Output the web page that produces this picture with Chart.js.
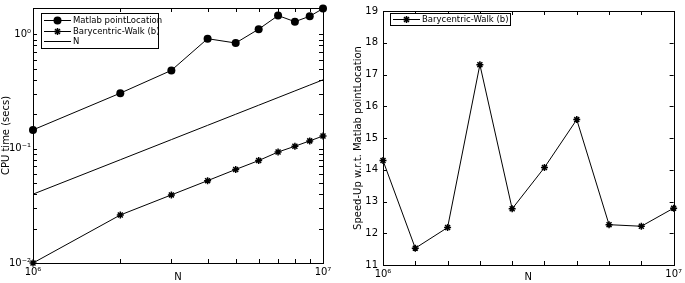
<!DOCTYPE html>
<html>
<head>
<meta charset="utf-8">
<script src="https://cdn.jsdelivr.net/npm/chart.js@4"></script>
<style>
  html, body { margin: 0; padding: 0; background: #fff; }
  #wrap { position: relative; width: 685px; height: 283px; }
  #timeChart { position: absolute; left: 0; top: 0; }
  #speedChart { position: absolute; left: 340px; top: 0; }
</style>
</head>
<body>
<div id="wrap">
  <canvas id="timeChart" width="340" height="283"></canvas>
  <canvas id="speedChart" width="345" height="283"></canvas>
</div>
<script>
// data
const nValues = [1e6, 2e6, 3e6, 4e6, 5e6, 6e6, 7e6, 8e6, 9e6, 1e7];
const matlabTimes = [0.146, 0.306, 0.484, 0.916, 0.84, 1.11, 1.46, 1.29, 1.44, 1.68];
const baryTimes = [0.0100, 0.0263, 0.0394, 0.0525, 0.0658, 0.0787, 0.0935, 0.105, 0.117, 0.129];
const nReference = [0.04, 0.08, 0.12, 0.16, 0.20, 0.24, 0.28, 0.32, 0.36, 0.40];
const speedUp = [14.29, 11.53, 12.18, 17.31, 12.77, 14.07, 15.58, 12.27, 12.22, 12.79];

// tick labels
const nTickValues = [1e6, 1e7];
const nTickLabels = ['10⁶', '10⁷'];
const timeTickValues = [0.01, 0.1, 1];
const timeTickLabels = ['10⁻²', '10⁻¹', '10⁰'];
const speedTickValues = [11, 12, 13, 14, 15, 16, 17, 18, 19];

const FONT = 'DejaVu Sans';
const INK = '#000';

// minor tick positions for the log axis (2..9 per decade)
const timeMinorTicks = [];
[0.01, 0.1, 1].forEach(d => {
    for (let k = 1; k <= 9; k++) timeMinorTicks.push(d * k);
});

function toPoints(ys) {
    return nValues.map((x, i) => ({ x: x, y: ys[i] }));
}

function drawMarker(ctx, style, x, y, r) {
    ctx.save();
    ctx.strokeStyle = INK;
    ctx.fillStyle = INK;
    if (style === 'circle') {
        ctx.beginPath();
        ctx.arc(x, y, r, 0, Math.PI * 2);
        ctx.fill();
    } else if (style === 'star') {
        ctx.lineWidth = 1.5;
        ctx.beginPath();
        for (let a = 0; a < 4; a++) {
            const ang = a * Math.PI / 4;
            ctx.moveTo(x - r * Math.cos(ang), y - r * Math.sin(ang));
            ctx.lineTo(x + r * Math.cos(ang), y + r * Math.sin(ang));
        }
        ctx.stroke();
    }
    ctx.restore();
}

// box round the plot, with ticks pointing inward on all four sides
const frameTicks = {
    id: 'frameTicks',
    beforeDatasetsDraw(chart, args, opts) {
        const { ctx, chartArea: a, scales } = chart;
        const len = 4;
        ctx.save();
        ctx.strokeStyle = INK;
        ctx.lineWidth = 1;
        ctx.beginPath();
        (opts.xTicks || []).forEach(v => {
            const px = Math.round(scales.x.getPixelForValue(v)) + 0.5;
            ctx.moveTo(px, a.bottom);
            ctx.lineTo(px, a.bottom - len);
            ctx.moveTo(px, a.top);
            ctx.lineTo(px, a.top + len);
        });
        (opts.yTicks || []).forEach(v => {
            const py = Math.round(scales.y.getPixelForValue(v)) + 0.5;
            if (py < a.top || py > a.bottom + 1) return;
            ctx.moveTo(a.left, py);
            ctx.lineTo(a.left + len, py);
            ctx.moveTo(a.right, py);
            ctx.lineTo(a.right - len, py);
        });
        ctx.stroke();
        ctx.strokeRect(Math.round(a.left) + 0.5, Math.round(a.top) + 0.5,
            Math.round(a.right - a.left), Math.round(a.bottom - a.top));
        ctx.restore();
    }
};

// legend drawn inside the plot area like the original
const boxLegend = {
    id: 'boxLegend',
    afterDatasetsDraw(chart, args, opts) {
        const { ctx } = chart;
        const b = opts.box;
        ctx.save();
        ctx.fillStyle = '#fff';
        ctx.fillRect(b.x, b.y, b.w, b.h);
        ctx.strokeStyle = INK;
        ctx.lineWidth = 1;
        ctx.strokeRect(b.x + 0.5, b.y + 0.5, b.w, b.h);
        ctx.font = '8.5px "' + FONT + '"';
        ctx.textBaseline = 'middle';
        ctx.textAlign = 'left';
        opts.rows.forEach(row => {
            const ds = chart.data.datasets[row.index];
            const y = Math.round(row.y) + 0.5;
            const x0 = b.x + 3, x1 = b.x + 30;
            ctx.beginPath();
            ctx.moveTo(x0, y);
            ctx.lineTo(x1, y);
            ctx.strokeStyle = INK;
            ctx.stroke();
            if (ds.markerStyle) drawMarker(ctx, ds.markerStyle, (x0 + x1) / 2, y, ds.pointRadius);
            ctx.fillStyle = INK;
            ctx.fillText(ds.label, x1 + 2, y);
        });
        ctx.restore();
    }
};

// markers are drawn by us so the star looks like the original
const markerDraw = {
    id: 'markerDraw',
    afterDatasetsDraw(chart) {
        chart.data.datasets.forEach((ds, i) => {
            if (!ds.markerStyle) return;
            chart.getDatasetMeta(i).data.forEach(pt => {
                drawMarker(chart.ctx, ds.markerStyle, pt.x, pt.y, ds.pointRadius);
            });
        });
    }
};

function labelFrom(values, labels) {
    return function (value) {
        const i = values.findIndex(v => Math.abs(v - value) / v < 1e-6);
        return i >= 0 ? labels[i] : '';
    };
}

function lineSet(label, ys, marker, radius) {
    return {
        label: label,
        data: toPoints(ys),
        borderColor: INK,
        backgroundColor: INK,
        borderWidth: 1,
        pointRadius: radius,
        pointStyle: false,
        markerStyle: marker,
        tension: 0,
        clip: false
    };
}

Chart.defaults.font.family = FONT;
Chart.defaults.color = INK;
Chart.defaults.animation = false;

new Chart(document.getElementById('timeChart'), {
    type: 'line',
    data: {
        datasets: [
            lineSet('Matlab pointLocation', matlabTimes, 'circle', 4),
            lineSet('Barycentric-Walk (b)', baryTimes, 'star', 3.5),
            lineSet('N', nReference, null, 0)
        ]
    },
    options: {
        responsive: false,
        layout: { padding: { left: 0, top: 6, right: 17, bottom: 0 } },
        plugins: {
            legend: { display: false },
            tooltip: { enabled: false },
            frameTicks: { xTicks: nValues, yTicks: timeMinorTicks },
            boxLegend: {
                box: { x: 41, y: 13, w: 117, h: 35 },
                rows: [{ index: 0, y: 20 }, { index: 1, y: 30.5 }, { index: 2, y: 41 }]
            }
        },
        scales: {
            x: {
                type: 'logarithmic',
                min: 1e6,
                max: 1e7,
                afterBuildTicks: s => { s.ticks = nTickValues.map(v => ({ value: v })); },
                afterFit: s => { s.height = 20; },
                grid: { display: false, drawTicks: false },
                border: { display: false },
                ticks: {
                    autoSkip: false, maxRotation: 0, padding: 3,
                    font: { size: 10 },
                    callback: labelFrom(nTickValues, nTickLabels)
                },
                title: { display: true, text: 'N', font: { size: 10 }, padding: 0 }
            },
            y: {
                type: 'logarithmic',
                min: 0.01,
                max: 1.7,
                afterBuildTicks: s => { s.ticks = timeTickValues.map(v => ({ value: v })); },
                afterFit: s => { s.width = 33; },
                grid: { display: false, drawTicks: false },
                border: { display: false },
                ticks: {
                    autoSkip: false, padding: 2,
                    font: { size: 10 },
                    callback: labelFrom(timeTickValues, timeTickLabels)
                },
                title: { display: true, text: 'CPU time (secs)', font: { size: 10 }, padding: 0 }
            }
        }
    },
    plugins: [frameTicks, markerDraw, boxLegend]
});

new Chart(document.getElementById('speedChart'), {
    type: 'line',
    data: {
        datasets: [
            lineSet('Barycentric-Walk (b)', speedUp, 'star', 3.5)
        ]
    },
    options: {
        responsive: false,
        layout: { padding: { left: 0, top: 4, right: 10, bottom: 0 } },
        plugins: {
            legend: { display: false },
            tooltip: { enabled: false },
            frameTicks: { xTicks: nValues, yTicks: speedTickValues },
            boxLegend: {
                box: { x: 50, y: 13, w: 120, h: 12 },
                rows: [{ index: 0, y: 19 }]
            }
        },
        scales: {
            x: {
                type: 'linear',
                min: 1e6,
                max: 1e7,
                afterBuildTicks: s => { s.ticks = nTickValues.map(v => ({ value: v })); },
                afterFit: s => { s.height = 18; },
                grid: { display: false, drawTicks: false },
                border: { display: false },
                ticks: {
                    autoSkip: false, maxRotation: 0, padding: 3,
                    font: { size: 10 },
                    callback: labelFrom(nTickValues, nTickLabels)
                },
                title: { display: true, text: 'N', font: { size: 10 }, padding: 0 }
            },
            y: {
                min: 11,
                max: 19,
                afterBuildTicks: s => { s.ticks = speedTickValues.map(v => ({ value: v })); },
                afterFit: s => { s.width = 43; },
                grid: { display: false, drawTicks: false },
                border: { display: false },
                ticks: {
                    autoSkip: false, padding: 5,
                    font: { size: 10 },
                    callback: v => String(v)
                },
                title: {
                    display: true, text: 'Speed-Up w.r.t. Matlab pointLocation',
                    font: { size: 10 }, padding: { top: 12, bottom: 0 }
                }
            }
        }
    },
    plugins: [frameTicks, markerDraw, boxLegend]
});
</script>
</body>
</html>
